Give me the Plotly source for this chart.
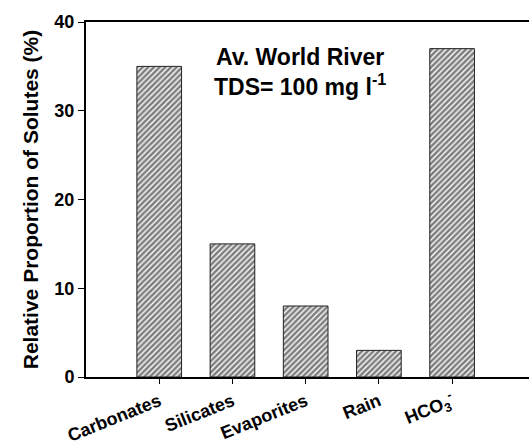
import plotly.graph_objects as go

categories = ["Carbonates", "Silicates", "Evaporites", "Rain", "HCO<sub>3</sub><sup>-</sup>"]
values = [35, 15, 8, 3, 37]
y_ticks = [0, 10, 20, 30, 40]

positions = list(range(len(categories)))

fig = go.Figure()
fig.add_trace(go.Bar(
    x=positions,
    y=values,
    width=0.61,
    marker=dict(
        color="white",
        line=dict(color="#222222", width=1),
        pattern=dict(shape="/", fgcolor="black", bgcolor="white", size=4, solidity=0.65),
    ),
    showlegend=False,
))

font_family = "Liberation Sans, Arial, sans-serif"

fig.update_layout(
    width=529, height=448,
    margin=dict(l=86, r=0, t=22, b=71),
    paper_bgcolor="white", plot_bgcolor="white",
    font=dict(family=font_family, color="black"),
    xaxis=dict(
        range=[-1, 5.05],
        tickvals=positions,
        ticktext=["<b>%s</b>" % c for c in categories],
        tickangle=-22,
        automargin=False,
        ticks="outside", ticklen=5, tickwidth=1, tickcolor="black",
        showline=True, linecolor="black", linewidth=2, mirror=True,
        showgrid=False, zeroline=False,
        tickfont=dict(size=18, family=font_family),
    ),
    yaxis=dict(
        range=[0, 40],
        tickvals=y_ticks,
        ticktext=["<b>%d</b>" % v for v in y_ticks],
        automargin=False,
        ticks="outside", ticklen=6, tickwidth=1, tickcolor="black",
        showline=True, linecolor="black", linewidth=2,
        showgrid=False, zeroline=False,
        tickfont=dict(size=18, family=font_family),
        title=dict(text="<b>Relative Proportion of Solutes (%)</b>", font=dict(size=21, family=font_family), standoff=10),
    ),
    annotations=[
        dict(text="<b>Av. World River</b><br><b>TDS= 100 mg l<sup>-1</sup></b>",
             x=(300 - 86) / 443, y=1 - (72 - 22) / 355, xref="paper", yref="paper",
             xanchor="center", yanchor="middle", showarrow=False,
             font=dict(size=23, family=font_family)),
    ],
)

fig.write_html("out.html")
